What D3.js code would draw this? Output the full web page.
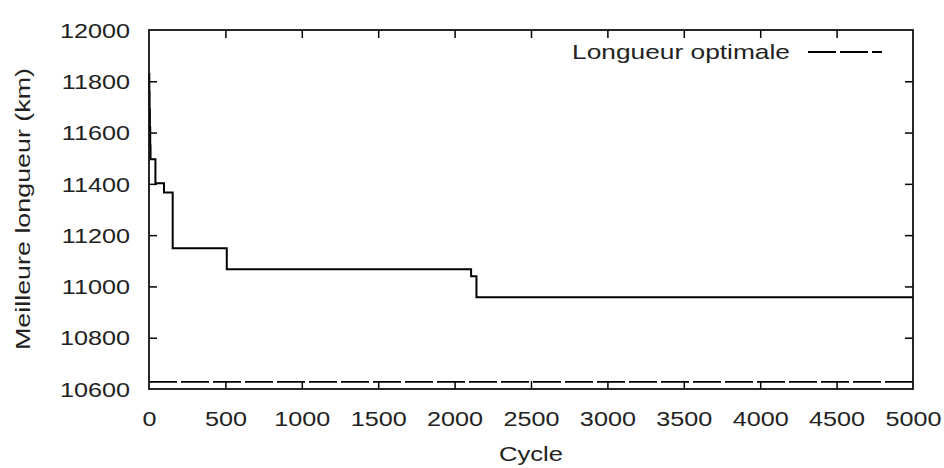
<!DOCTYPE html>
<html>
<head>
    <meta charset="utf-8">
    <title>meilleure-longueur</title>
    <script src="https://cdn.jsdelivr.net/npm/d3@7/dist/d3.min.js"></script>
    <style type="text/css">
        body {
            margin: 0;
            background: #ffffff;
            font-family: "Liberation Sans", Arial, sans-serif;
        }

        .tick line {
            stroke: #000000;
            stroke-width: 1.5px;
        }

        .label {
            font-size: 21px;
            fill: #222222;
        }
    </style>
</head>
<body>
<div id="mysvg"></div>
<script>
// best tour length found, by cycle
var cycles     = [0,     2,     4,     6,     8,     10,    42,    98,    155,   509,   2108,  2143,  5000];
var bestLength = [11828, 11760, 11690, 11620, 11550, 11496, 11402, 11366, 11149, 11067, 11040, 10958, 10958];

var optimalLength = 10628;
var optimalLabel = 'Longueur optimale';

var xTicks = [0, 500, 1000, 1500, 2000, 2500, 3000, 3500, 4000, 4500, 5000];
var yTicks = [10600, 10800, 11000, 11200, 11400, 11600, 11800, 12000];

var width = 944, height = 468;
var margin = {left: 149, right: 31, top: 30, bottom: 79};
var innerW = width - margin.left - margin.right,
    innerH = height - margin.top - margin.bottom;
var stretch = 1.2;  // glyphs in the picture are wider than Arial

var x = d3.scaleLinear().domain([0, 5000]).range([0, innerW]);
var y = d3.scaleLinear().domain([10600, 12000]).range([innerH, 0]);

var svg = d3.select('#mysvg').append('svg')
            .attr('width', width).attr('height', height);

var g = svg.append('g')
           .attr('transform', 'translate(' + margin.left + ',' + margin.top + ')');

// ticks pointing inward, on all four sides
var bottom = g.append('g')
              .attr('transform', 'translate(0,' + innerH + ')')
              .call(d3.axisBottom(x).tickValues(xTicks).tickSize(-8).tickFormat(d3.format('d')));
bottom.selectAll('text')
      .attr('class', 'label')
      .attr('y', 22)
      .attr('dy', '0.71em')
      .attr('transform', 'scale(' + stretch + ',1)');

var left = g.append('g')
            .call(d3.axisLeft(y).tickValues(yTicks).tickSize(-8).tickFormat(d3.format('d')));
left.selectAll('text')
    .attr('class', 'label')
    .attr('x', -19 / stretch)
    .attr('dy', '0.34em')
    .attr('transform', 'scale(' + stretch + ',1)');

g.append('g')
 .call(d3.axisTop(x).tickValues(xTicks).tickSize(-8).tickFormat(''));
g.append('g')
 .attr('transform', 'translate(' + innerW + ',0)')
 .call(d3.axisRight(y).tickValues(yTicks).tickSize(-8).tickFormat(''));

g.selectAll('.domain').remove();
g.selectAll('.tick').filter(function(d) { return d === 0 || d === 5000 || d === 10600 || d === 12000; })
 .select('line').remove();

// optimal length, dashed
g.append('line')
 .attr('x1', x(0)).attr('x2', x(5000))
 .attr('y1', y(optimalLength)).attr('y2', y(optimalLength))
 .attr('stroke', '#000000')
 .attr('stroke-width', 1.8)
 .attr('stroke-dasharray', '28,4');

// best length curve
var line = d3.line()
             .x(function(d) { return x(d[0]); })
             .y(function(d) { return y(d[1]); })
             .curve(d3.curveStepAfter);

g.append('path')
 .datum(d3.zip(cycles, bestLength))
 .attr('fill', 'none')
 .attr('stroke', '#000000')
 .attr('stroke-width', 2)
 .attr('d', line);

// frame
g.append('rect')
 .attr('width', innerW).attr('height', innerH)
 .attr('fill', 'none')
 .attr('stroke', '#111111')
 .attr('stroke-width', 1.8);

// legend
svg.append('text')
   .attr('class', 'label')
   .attr('x', 572).attr('y', 59)
   .attr('textLength', 218).attr('lengthAdjust', 'spacingAndGlyphs')
   .text(optimalLabel);

svg.append('line')
   .attr('x1', 808).attr('x2', 882)
   .attr('y1', 52).attr('y2', 52)
   .attr('stroke', '#000000')
   .attr('stroke-width', 1.8)
   .attr('stroke-dasharray', '28,4');

// axis titles
svg.append('text')
   .attr('class', 'label')
   .attr('x', 531).attr('y', 461)
   .attr('text-anchor', 'middle')
   .attr('textLength', 64).attr('lengthAdjust', 'spacingAndGlyphs')
   .text('Cycle');

svg.append('text')
   .attr('class', 'label')
   .attr('transform', 'translate(30,209) rotate(-90)')
   .attr('text-anchor', 'middle')
   .attr('textLength', 282).attr('lengthAdjust', 'spacingAndGlyphs')
   .text('Meilleure longueur (km)');
</script>
</body>
</html>
